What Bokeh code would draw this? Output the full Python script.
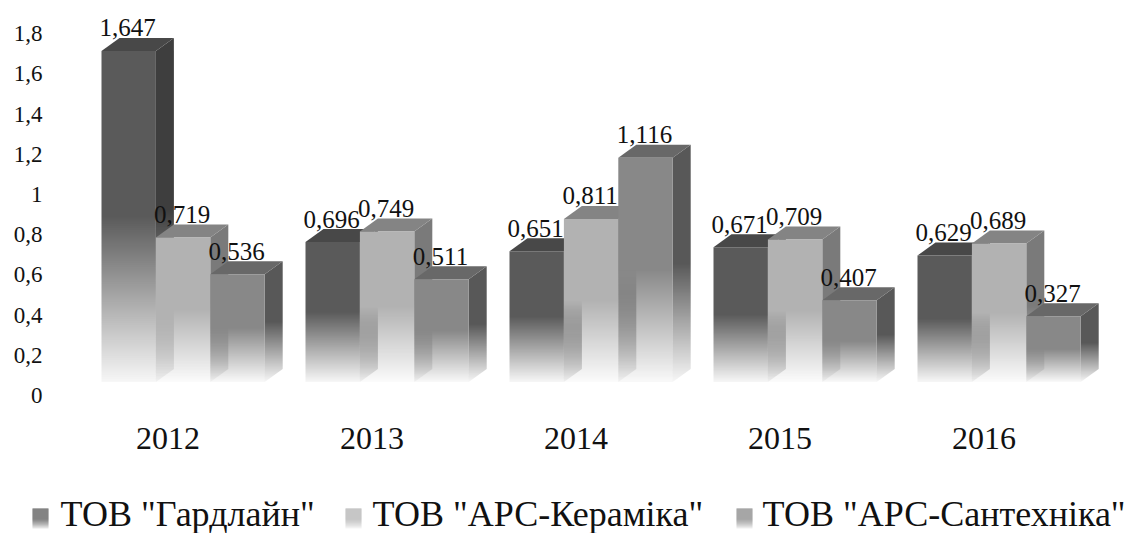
import math

from bokeh.embed import file_html
from bokeh.layouts import column, row
from bokeh.models import ColumnDataSource, FixedTicker, LinearAxis, Range1d
from bokeh.plotting import figure
from bokeh.resources import INLINE
from bokeh.core.properties import value

years = ["2012", "2013", "2014", "2015", "2016"]
series_names = ['ТОВ "Гардлайн"', 'ТОВ "АРС-Кераміка"', 'ТОВ "АРС-Сантехніка"']
gardline = [1.647, 0.696, 0.651, 0.671, 0.629]
ars_ceramics = [0.719, 0.749, 0.811, 0.709, 0.689]
ars_sanitary = [0.536, 0.511, 1.116, 0.407, 0.327]
y_ticks = [0, 0.2, 0.4, 0.6, 0.8, 1, 1.2, 1.4, 1.6, 1.8]
y_tick_labels = ["0", "0,2", "0,4", "0,6", "0,8", "1", "1,2", "1,4", "1,6", "1,8"]

front_colors = ["#5a5a5a", "#b2b2b2", "#888888"]
side_colors = ["#3e3e3e", "#7a7a7a", "#585858"]
top_colors = ["#484848", "#848484", "#686868"]

FONT = "Liberation Serif"
INK = "#111111"

# plot scale, in pixels per data unit
PX_X = 204.0
PX_Y = 201.0
FRAME_LEFT, FRAME_BOTTOM = 50, 415
# the half pixel keeps the fading rows on the device pixel grid
BASE_PX, AXIS_ZERO_PX = 381.5, 395
TICK_PX = 167.5
BAR_W = 54.4 / PX_X
BAR_START = (101 - TICK_PX) / PX_X
DEPTH_X = 18 / PX_X
DEPTH_Y = 13 / PX_Y


def fade(f):
    """Opacity at relative depth f (0 top, 1 bottom) of a face."""
    return 1.0 if f <= 0.5 else 1.0 - (f - 0.5) / 0.5 * 0.95


def clip_band(poly, lo, hi):
    """Clip a convex polygon to the horizontal band lo <= y <= hi."""
    def clip(pts, inside, cross):
        out = []
        for k, a in enumerate(pts):
            b = pts[(k + 1) % len(pts)]
            if inside(a):
                out.append(a)
            if inside(a) != inside(b):
                t = (cross - a[1]) / (b[1] - a[1])
                out.append((a[0] + t * (b[0] - a[0]), cross))
        return out
    pts = clip(poly, lambda p: p[1] >= lo, lo)
    return clip(pts, lambda p: p[1] <= hi, hi) if pts else []


xs, ys, fills, alphas = [], [], [], []


def add(poly, color, alpha):
    xs.append([p[0] for p in poly])
    ys.append([p[1] for p in poly])
    fills.append(color)
    alphas.append(alpha)


def add_faded(poly, color):
    """Solid upper half of a face, then pixel-aligned bands fading to the floor."""
    low = min(p[1] for p in poly)
    high = max(p[1] for p in poly)
    mid_row = round((low + high) / 2 * PX_Y)
    add(clip_band(poly, mid_row / PX_Y, high), color, 1.0)
    for r in range(math.floor(low * PX_Y + 1e-6), mid_row):
        y0, y1 = r / PX_Y, (r + 1) / PX_Y
        part = clip_band(poly, y0, y1)
        if len(part) >= 3:
            add(part, color, fade((high - (y0 + y1) / 2) / (high - low)))


label_x, label_y, label_text = [], [], []
all_series = [gardline, ars_ceramics, ars_sanitary]
for c in range(len(years)):
    for s, vals in enumerate(all_series):
        v = vals[c]
        x0 = c + BAR_START + s * BAR_W
        x1 = x0 + BAR_W
        side = [(x1, 0), (x1 + DEPTH_X, DEPTH_Y), (x1 + DEPTH_X, v + DEPTH_Y), (x1, v)]
        add_faded(side, side_colors[s])
        add([(x0, v), (x1, v), (x1 + DEPTH_X, v + DEPTH_Y), (x0 + DEPTH_X, v + DEPTH_Y)], top_colors[s], 1.0)
        add_faded([(x0, 0), (x1, 0), (x1, v), (x0, v)], front_colors[s])
        label_x.append((x0 + x1) / 2 - 1 / PX_X)
        label_y.append(v + 23 / PX_Y)
        label_text.append(f"{v:.3f}".replace(".", ","))

p = figure(
    width=1132, height=470, output_backend="svg", toolbar_location=None,
    x_range=Range1d((FRAME_LEFT - TICK_PX) / PX_X, (1132 - TICK_PX) / PX_X),
    y_range=Range1d((BASE_PX - FRAME_BOTTOM) / PX_Y, BASE_PX / PX_Y),
    y_axis_location=None, min_border_left=FRAME_LEFT, min_border_right=0,
    min_border_top=0, min_border_bottom=470 - FRAME_BOTTOM,
)
p.outline_line_color = None
p.grid.visible = False

p.extra_y_ranges["ticks"] = Range1d((AXIS_ZERO_PX - FRAME_BOTTOM) / PX_Y, AXIS_ZERO_PX / PX_Y)
y_axis = LinearAxis(y_range_name="ticks", ticker=FixedTicker(ticks=y_ticks))
y_axis.major_label_overrides = dict(zip(y_ticks, y_tick_labels))
y_axis.major_label_text_font = FONT
y_axis.major_label_text_font_size = "23px"
y_axis.major_label_text_color = INK
y_axis.major_label_standoff = 2
y_axis.axis_line_color = None
y_axis.major_tick_line_color = None
y_axis.minor_tick_line_color = None
p.add_layout(y_axis, "left")

x_axis = p.xaxis[0]
x_axis.ticker = FixedTicker(ticks=list(range(len(years))))
x_axis.major_label_overrides = dict(enumerate(years))
x_axis.major_label_text_font = FONT
x_axis.major_label_text_font_size = "32px"
x_axis.major_label_text_color = INK
x_axis.major_label_standoff = 6
x_axis.axis_line_color = None
x_axis.major_tick_line_color = None
x_axis.minor_tick_line_color = None

p.patches("xs", "ys", source=ColumnDataSource(dict(xs=xs, ys=ys, fill_color=fills, fill_alpha=alphas)),
          fill_color="fill_color", fill_alpha="fill_alpha", line_color=None)
p.text(label_x, label_y, text=label_text, text_font=value(FONT), text_font_size="25px",
       text_color=INK, text_align="center", text_baseline="middle")

# legend strip with gradient swatches
swatch_left = [32, 345, 736]
text_left = [60, 372, 762]
lg = figure(
    width=1132, height=63, output_backend="svg", toolbar_location=None,
    x_range=Range1d(0, 1132), y_range=Range1d(63, 0),
    x_axis_location=None, y_axis_location=None,
    min_border_left=0, min_border_right=0, min_border_top=0, min_border_bottom=0,
    outline_line_color=None,
)
lg.grid.visible = False
sw_x, sw_y, sw_c, sw_a = [], [], [], []
for s, left in enumerate(swatch_left):
    for r in range(38, 58):
        sw_x.append([left, left + 16, left + 16, left])
        sw_y.append([r, r, r + 1, r + 1])
        sw_c.append(front_colors[s])
        sw_a.append(fade((r - 38) / 20))
lg.patches(sw_x, sw_y, fill_color=sw_c, fill_alpha=sw_a, line_color=None)
lg.text(text_left, [43, 43, 43], text=series_names, text_font=value(FONT), text_font_size="36px",
        text_color=INK, text_align="left", text_baseline="middle")

open("out.html", "w").write(file_html(column(p, row(lg), spacing=0), INLINE))
